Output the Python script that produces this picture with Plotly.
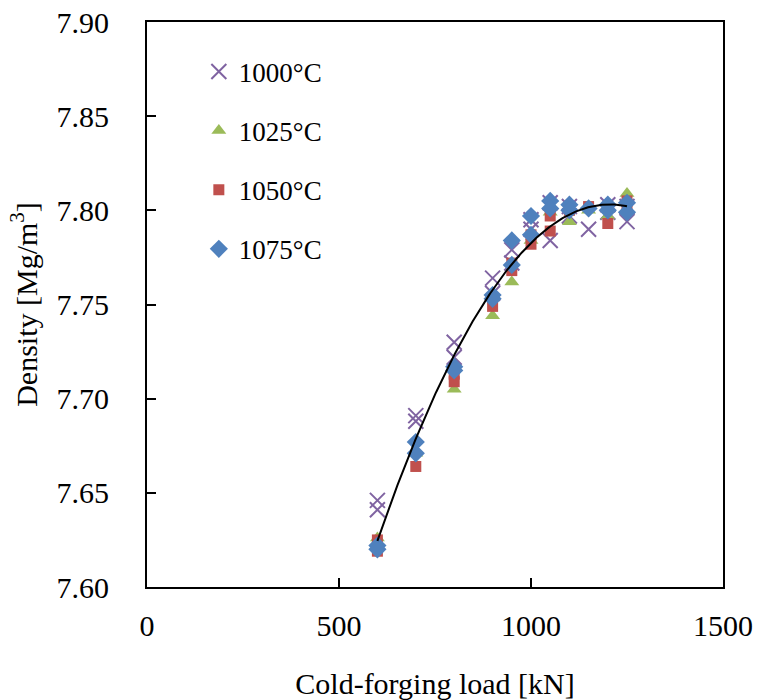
import numpy as np
import plotly.graph_objects as go

# Cold-forging load [kN]
load_1000 = [600, 600, 700, 700, 800, 800, 900, 900, 950, 950, 1000, 1000, 1050, 1050, 1100, 1100, 1150, 1200, 1200, 1250, 1250]
dens_1000 = [7.646, 7.641, 7.691, 7.688, 7.730, 7.722, 7.764, 7.756, 7.779, 7.772, 7.795, 7.790, 7.804, 7.784, 7.802, 7.797, 7.790, 7.803, 7.799, 7.802, 7.794]

load_1025 = [600, 700, 800, 900, 950, 1000, 1050, 1100, 1150, 1200, 1250, 1250]
dens_1025 = [7.626, 7.671, 7.705, 7.744, 7.762, 7.784, 7.799, 7.794, 7.800, 7.797, 7.809, 7.801]

load_1050 = [600, 600, 700, 800, 800, 900, 950, 950, 1000, 1000, 1050, 1050, 1100, 1150, 1200, 1250, 1250]
dens_1050 = [7.625, 7.619, 7.664, 7.713, 7.709, 7.749, 7.772, 7.768, 7.787, 7.782, 7.797, 7.789, 7.800, 7.802, 7.793, 7.805, 7.801]

load_1075 = [600, 600, 700, 700, 800, 800, 900, 900, 950, 950, 1000, 1000, 1050, 1050, 1100, 1100, 1150, 1200, 1200, 1250, 1250]
dens_1075 = [7.622, 7.620, 7.677, 7.671, 7.717, 7.715, 7.755, 7.753, 7.784, 7.771, 7.797, 7.787, 7.805, 7.801, 7.803, 7.800, 7.801, 7.803, 7.800, 7.804, 7.799]

series_names = ["1000°C", "1025°C", "1050°C", "1075°C"]
x_ticks = [0, 500, 1000, 1500]
y_ticks = [7.60, 7.65, 7.70, 7.75, 7.80, 7.85, 7.90]

FONT = "Liberation Serif, Times New Roman, serif"

fig = go.Figure()
fig.add_trace(go.Scatter(x=load_1000, y=dens_1000, mode="markers", name=series_names[0],
                         legendgroup="a",
                         marker=dict(symbol="x-thin-open", size=15, color="#8064A2",
                                     line=dict(color="#8064A2", width=2))))
fig.add_trace(go.Scatter(x=load_1025, y=dens_1025, mode="markers", name=series_names[1],
                         legendgroup="b",
                         marker=dict(symbol="triangle-up", size=13, color="#9BBB59")))
fig.add_trace(go.Scatter(x=load_1050, y=dens_1050, mode="markers", name=series_names[2],
                         legendgroup="c",
                         marker=dict(symbol="square", size=11, color="#C0504D")))
fig.add_trace(go.Scatter(x=load_1075, y=dens_1075, mode="markers", name=series_names[3],
                         legendgroup="d",
                         marker=dict(symbol="diamond", size=14, color="#4F81BD")))

# 2nd-order polynomial trendline fitted to all points
all_x = np.array(load_1000 + load_1025 + load_1050 + load_1075, dtype=float)
all_y = np.array(dens_1000 + dens_1025 + dens_1050 + dens_1075, dtype=float)
coef = np.polyfit(all_x, all_y, 2)
tx = np.linspace(min(all_x), max(all_x), 200)
ty = np.polyval(coef, tx)
fig.add_trace(go.Scatter(x=tx, y=ty, mode="lines", showlegend=False,
                         line=dict(color="black", width=2), hoverinfo="skip"))

fig.update_layout(
    width=758, height=700,
    margin=dict(l=147, r=35, t=22, b=113),
    paper_bgcolor="white", plot_bgcolor="white",
    font=dict(family=FONT, size=30, color="black"),
    legend=dict(x=0.09, y=0.955, xanchor="left", yanchor="top",
                font=dict(size=27, family=FONT), traceorder="grouped",
                tracegroupgap=21, bgcolor="rgba(0,0,0,0)", itemwidth=30),
    xaxis=dict(range=[0, 1500], tickvals=x_ticks, ticktext=[str(v) for v in x_ticks],
               ticks="inside", ticklen=9, tickwidth=2, tickcolor="black",
               showline=True, linecolor="black", linewidth=2, mirror=True,
               showgrid=False, zeroline=False, ticklabelstandoff=11,
               automargin=False,
               tickfont=dict(size=30, family=FONT),
               title=dict(text="Cold-forging load [kN]", standoff=33,
                          font=dict(size=30, family=FONT))),
    yaxis=dict(range=[7.60, 7.90], tickvals=y_ticks, ticktext=[f"{v:.2f}" for v in y_ticks],
               ticks="inside", ticklen=9, tickwidth=2, tickcolor="black",
               showline=True, linecolor="black", linewidth=2, mirror=True,
               showgrid=False, zeroline=False, ticklabelstandoff=30,
               automargin=False,
               tickfont=dict(size=30, family=FONT),
               title=dict(text="Density [Mg/m<sup>3</sup>]", standoff=10,
                          font=dict(size=30, family=FONT))),
)

fig.write_html("out.html")
